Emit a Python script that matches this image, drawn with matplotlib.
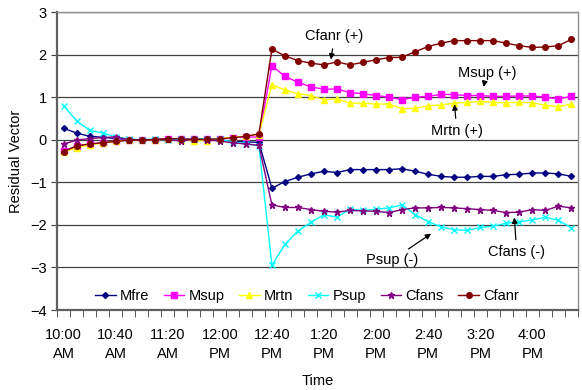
import matplotlib
matplotlib.use("Agg")
import matplotlib.pyplot as plt
import numpy as np

# 10-minute samples from 10:00 AM to 4:30 PM (40 points)
tick_labels = ["10:00\nAM", "10:40\nAM", "11:20\nAM", "12:00\nPM", "12:40\nPM",
               "1:20\nPM", "2:00\nPM", "2:40\nPM", "3:20\nPM", "4:00\nPM"]

mfre = [0.27, 0.16, 0.08, 0.06, 0.03, 0.0, 0.0, 0.0, 0.02, 0.01, 0.01, 0.01,
        0.0, -0.04, -0.05, -0.06,
        -1.14, -0.98, -0.88, -0.80, -0.74, -0.77, -0.70, -0.70, -0.70, -0.70,
        -0.68, -0.74, -0.81, -0.86, -0.88, -0.88, -0.86, -0.86, -0.82, -0.81,
        -0.78, -0.78, -0.80, -0.86]
msup = [-0.27, -0.15, -0.10, -0.07, -0.03, 0.0, 0.0, 0.0, 0.03, 0.02, 0.01,
        0.01, 0.02, 0.05, 0.07, 0.06,
        1.74, 1.49, 1.35, 1.24, 1.19, 1.19, 1.11, 1.08, 1.04, 1.00, 0.94, 1.00,
        1.02, 1.07, 1.06, 1.04, 1.04, 1.02, 1.02, 1.03, 1.03, 1.00, 0.96, 1.02]
mrtn = [-0.29, -0.19, -0.12, -0.08, -0.04, 0.0, 0.0, -0.01, 0.02, -0.01,
        -0.02, -0.02, 0.03, 0.06, 0.09, 0.12,
        1.29, 1.17, 1.08, 1.04, 0.94, 0.96, 0.86, 0.86, 0.84, 0.84, 0.73, 0.74,
        0.80, 0.82, 0.86, 0.88, 0.90, 0.88, 0.87, 0.88, 0.87, 0.81, 0.78, 0.84]
psup = [0.80, 0.45, 0.22, 0.16, 0.07, 0.02, 0.0, 0.02, 0.0, 0.01, 0.02, 0.02,
        0.01, -0.05, -0.09, -0.14,
        -2.95, -2.46, -2.14, -1.94, -1.76, -1.82, -1.63, -1.66, -1.63, -1.60,
        -1.53, -1.76, -1.92, -2.05, -2.11, -2.13, -2.06, -2.03, -1.96, -1.93,
        -1.88, -1.82, -1.89, -2.07]
cfans = [-0.10, -0.01, 0.03, 0.05, 0.07, 0.0, 0.0, 0.0, 0.01, -0.03, 0.01,
         0.0, -0.03, -0.07, -0.10, -0.13,
         -1.53, -1.59, -1.59, -1.64, -1.68, -1.70, -1.66, -1.67, -1.68, -1.71,
         -1.64, -1.60, -1.60, -1.59, -1.60, -1.62, -1.64, -1.66, -1.71, -1.70,
         -1.64, -1.66, -1.56, -1.60]
cfanr = [-0.28, -0.14, -0.10, -0.07, -0.04, -0.01, 0.0, 0.0, 0.03, 0.02,
         0.01, 0.01, 0.02, 0.05, 0.08, 0.14,
         2.13, 1.97, 1.86, 1.80, 1.76, 1.83, 1.76, 1.82, 1.88, 1.93, 1.94, 2.07,
         2.19, 2.27, 2.33, 2.33, 2.33, 2.33, 2.27, 2.21, 2.17, 2.18, 2.21, 2.36]

series = [
    ("Mfre", mfre, "#000080", "D", 3),
    ("Msup", msup, "#FF00FF", "s", 4),
    ("Mrtn", mrtn, "#FFFF00", "^", 4),
    ("Psup", psup, "#00FFFF", "x", 4.5),
    ("Cfans", cfans, "#800080", "*", 4.5),
    ("Cfanr", cfanr, "#800000", "o", 4),
]

plt.rcParams["font.family"] = ["Liberation Sans", "DejaVu Sans"]
plt.rcParams["font.size"] = 10.5

fig = plt.figure(figsize=(5.82, 3.90), dpi=100)
ax = fig.add_axes([0.098, 0.205, 0.895, 0.764])

x = np.arange(len(mfre))
for name, vals, color, marker, ms in series:
    ax.plot(x, vals, color=color, marker=marker, markersize=ms, linewidth=1,
            markeredgewidth=1, label=name)

ax.set_xlim(-0.5, len(x) - 0.5)
ax.set_ylim(-4, 3)
ax.set_yticks(range(-4, 4))
ax.yaxis.grid(True, color="#404040", linewidth=0.9)
ax.set_axisbelow(True)

ax.set_xticks(np.arange(0, 40, 4))
ax.set_xticklabels(tick_labels, linespacing=1.45)
ax.set_xticks(np.arange(-0.5, 40, 1), minor=True)
ax.tick_params(axis="x", which="major", length=0, pad=13)
ax.tick_params(axis="x", which="minor", length=5, direction="out",
               color="#404040")
ax.tick_params(axis="y", length=4, color="#404040")

for side in ["left", "bottom"]:
    ax.spines[side].set_color("#606060")
    ax.spines[side].set_linewidth(1.6)
for side in ["top", "right"]:
    ax.spines[side].set_color("#909090")
    ax.spines[side].set_linewidth(1)

ax.set_xlabel("Time", labelpad=9)
ax.set_ylabel("Residual Vector", labelpad=5)

arrow = dict(arrowstyle="-|>", color="black", lw=0.9, mutation_scale=8)
ax.annotate("Cfanr (+)", xy=(20.5, 1.82), xytext=(20.8, 2.43),
            ha="center", va="center", arrowprops=arrow)
ax.annotate("Msup (+)", xy=(32.2, 1.18), xytext=(32.5, 1.58),
            ha="center", va="center", arrowprops=arrow)
ax.annotate("Mrtn (+)", xy=(30.0, 0.90), xytext=(30.2, 0.21),
            ha="center", va="center", arrowprops=arrow)
ax.annotate("Psup (-)", xy=(28.4, -2.17), xytext=(25.2, -2.83),
            ha="center", va="center", arrowprops=arrow)
ax.annotate("Cfans (-)", xy=(34.6, -1.76), xytext=(34.8, -2.64),
            ha="center", va="center", arrowprops=arrow)

ax.legend(loc="lower center", bbox_to_anchor=(0.48, -0.02), ncol=6,
          frameon=False, handlelength=1.4, handletextpad=0.3,
          columnspacing=1.0, fontsize=10.5)

fig.savefig("out.png", dpi=100)
